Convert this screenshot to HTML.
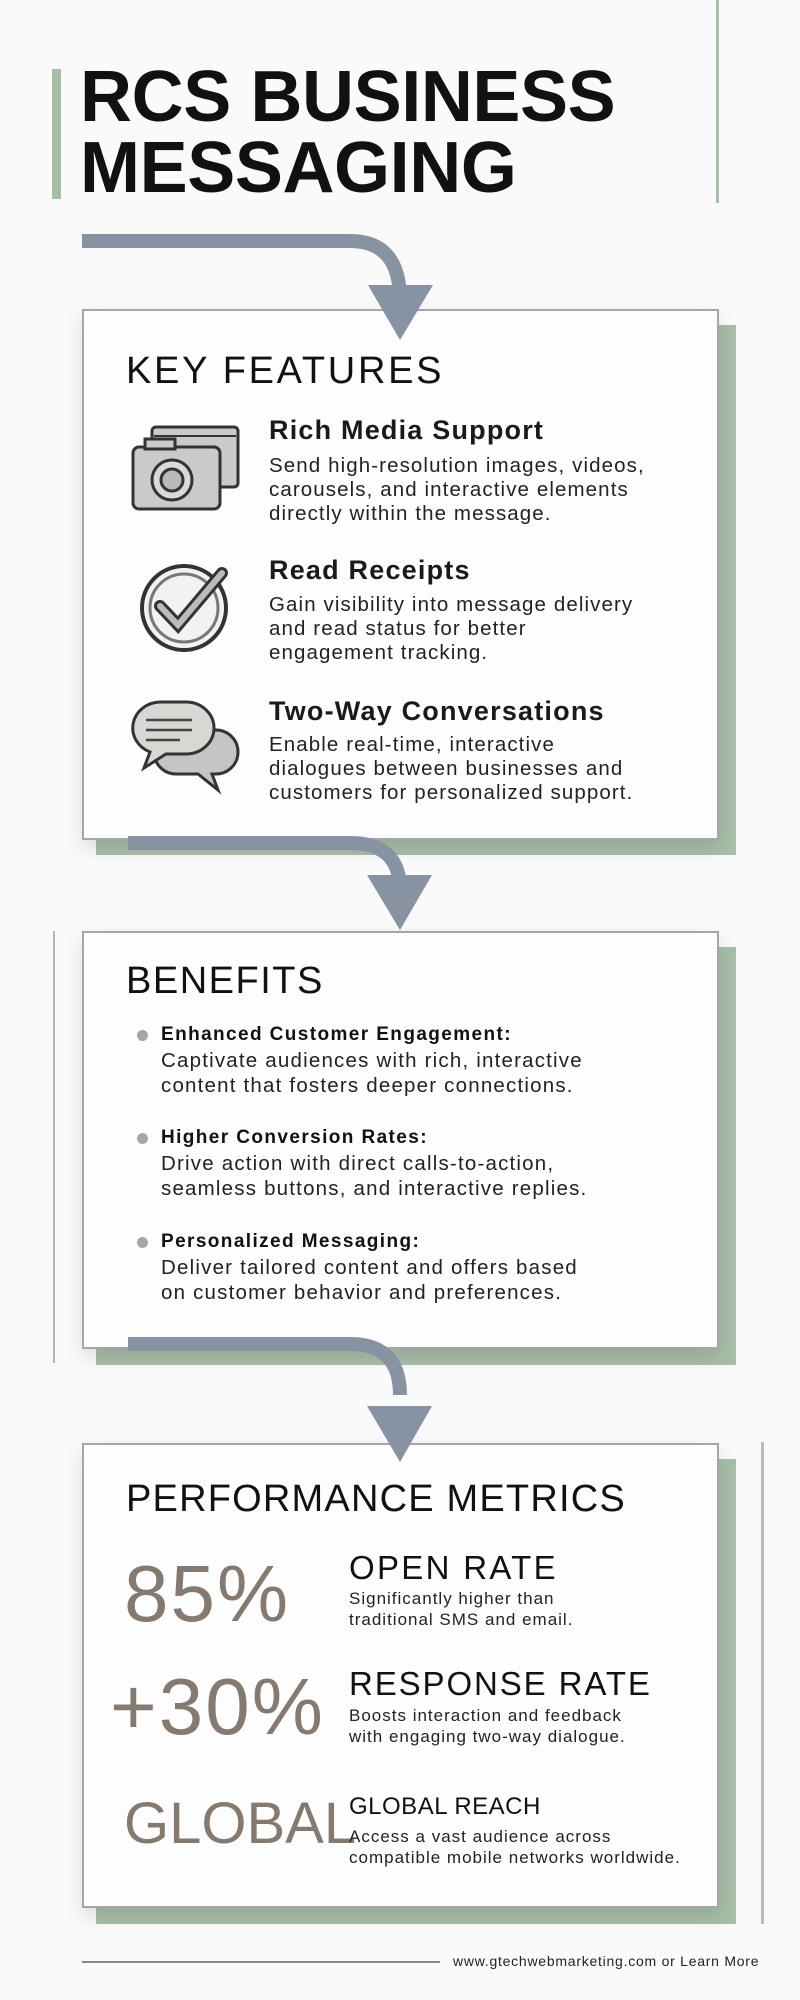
<!DOCTYPE html>
<html><head><meta charset="utf-8"><style>
*{margin:0;padding:0;box-sizing:border-box}
body{width:800px;height:2000px;background:#fafafa;position:relative;overflow:hidden;font-family:"Liberation Sans",sans-serif;color:#111}
.a{position:absolute;white-space:nowrap}
.box{position:absolute;background:#fdfdfd;border:2px solid #a6a6a6;box-shadow:0 8px 18px rgba(0,0,0,.12)}
.sh{position:absolute;background:#a7bea9}
.h{font-size:38px;letter-spacing:1.5px;line-height:44px}
.ft{font-size:27px;font-weight:bold;line-height:32px;color:#1a1a1a;letter-spacing:1.2px}
.fd{font-size:20.5px;line-height:24px;color:#222;letter-spacing:1.1px}
.bt{font-size:19px;font-weight:bold;line-height:24px;letter-spacing:1.4px}
.bd{font-size:20.5px;line-height:25px;color:#222;letter-spacing:1.2px}
.dot{position:absolute;width:11px;height:11px;border-radius:50%;background:#a0aa9f}
.big{color:#857a70;font-size:80px;line-height:90px;letter-spacing:2px}
.mt{font-size:33px;line-height:38px;letter-spacing:2.3px}
.md{font-size:17px;line-height:20.5px;color:#222;letter-spacing:1px}
</style></head><body>
<div class="a" style="left:52px;top:69px;width:9px;height:130px;background:#a7bea9"></div>
<div class="a" style="left:716px;top:0;width:3px;height:203px;background:#a7bea9"></div>
<div class="a" style="left:80px;top:62px;font-size:72px;font-weight:bold;line-height:71px;letter-spacing:-0.4px">RCS BUSINESS<br>MESSAGING</div>

<div class="sh" style="left:96px;top:325px;width:640px;height:530px"></div>
<div class="box" style="left:82px;top:309px;width:637px;height:531px"></div>
<div class="sh" style="left:96px;top:947px;width:640px;height:418px"></div>
<div class="box" style="left:82px;top:931px;width:637px;height:418px"></div>
<div class="a" style="left:53px;top:931px;width:2px;height:432px;background:#a7bea9"></div>
<div class="sh" style="left:96px;top:1459px;width:640px;height:465px"></div>
<div class="box" style="left:82px;top:1443px;width:637px;height:465px"></div>
<div class="a" style="left:761px;top:1442px;width:3px;height:482px;background:#bbb"></div>

<svg class="a" style="left:0;top:0" width="800" height="2000">
<g fill="none" stroke="#8792a3" stroke-width="14">
<path d="M82 241 H350 Q400 241 400 300"/>
<path d="M128 843 H350 Q400 843 400 890"/>
<path d="M128 1344 H350 Q400 1344 400 1395"/>
</g>
<g fill="#8792a3">
<polygon points="368,285 433,285 400,340"/>
<polygon points="367,875 432,875 400,930"/>
<polygon points="367,1406 432,1406 400,1462"/>
</g>
<g stroke="#333" stroke-width="3" fill="#c8cbc7">
<rect x="152" y="427" width="86" height="60" rx="4"/>
<rect x="133" y="447" width="87" height="62" rx="6"/>
<circle cx="172" cy="480" r="20" fill="#d8dad6"/>
<circle cx="172" cy="480" r="11" fill="#b7bab5"/>
<rect x="145" y="439" width="30" height="10" fill="#c8cbc7"/>
</g>
<line x1="154" y1="436" x2="236" y2="436" stroke="#333" stroke-width="2"/>
<circle cx="184" cy="608" r="42" fill="#f2f2f2" stroke="#333" stroke-width="4"/>
<circle cx="184" cy="608" r="34" fill="none" stroke="#777" stroke-width="3"/>
<path d="M160 606 L178 625 L222 573" fill="none" stroke="#333" stroke-width="12" stroke-linecap="round"/>
<path d="M160 606 L178 625 L222 573" fill="none" stroke="#bbb" stroke-width="6" stroke-linecap="round"/>
<g stroke="#333" stroke-width="3" fill="#c3c6c2">
<path d="M176 730 h40 a22 22 0 0 1 0 44 h-4 l6 16 l-20 -16 h-22 a22 22 0 0 1 0 -44z"/>
<path d="M160 702 h26 a28 26 0 0 1 0 52 h-20 l-22 14 l6 -16 a28 26 0 0 1 10 -50z" fill="#d6d8d4"/>
</g>
<g stroke="#444" stroke-width="2.5"><line x1="146" y1="720" x2="192" y2="720"/><line x1="146" y1="730" x2="192" y2="730"/><line x1="146" y1="740" x2="180" y2="740"/></g>
</svg>

<div class="a h" style="left:126px;top:349px;letter-spacing:2.7px">KEY FEATURES</div>
<div class="a ft" style="left:269px;top:414px">Rich Media Support</div>
<div class="a fd" style="left:269px;top:454px">Send high-resolution images, videos,<br>carousels, and interactive elements<br>directly within the message.</div>
<div class="a ft" style="left:269px;top:554px">Read Receipts</div>
<div class="a fd" style="left:269px;top:593px">Gain visibility into message delivery<br>and read status for better<br>engagement tracking.</div>
<div class="a ft" style="left:269px;top:695px">Two-Way Conversations</div>
<div class="a fd" style="left:269px;top:733px">Enable real-time, interactive<br>dialogues between businesses and<br>customers for personalized support.</div>

<div class="a h" style="left:126px;top:959px">BENEFITS</div>
<div class="dot" style="left:137px;top:1030px"></div>
<div class="a bt" style="left:161px;top:1023px">Enhanced Customer Engagement:</div>
<div class="a bd" style="left:161px;top:1048px">Captivate audiences with rich, interactive<br>content that fosters deeper connections.</div>
<div class="dot" style="left:137px;top:1133px"></div>
<div class="a bt" style="left:161px;top:1126px">Higher Conversion Rates:</div>
<div class="a bd" style="left:161px;top:1151px">Drive action with direct calls-to-action,<br>seamless buttons, and interactive replies.</div>
<div class="dot" style="left:137px;top:1237px"></div>
<div class="a bt" style="left:161px;top:1230px">Personalized Messaging:</div>
<div class="a bd" style="left:161px;top:1255px">Deliver tailored content and offers based<br>on customer behavior and preferences.</div>

<div class="a h" style="left:126px;top:1477px;letter-spacing:1.2px">PERFORMANCE METRICS</div>
<div class="a big" style="left:124px;top:1549px">85%</div>
<div class="a mt" style="left:349px;top:1549px">OPEN RATE</div>
<div class="a md" style="left:349px;top:1589px">Significantly higher than<br>traditional SMS and email.</div>
<div class="a big" style="left:110px;top:1662px">+30%</div>
<div class="a mt" style="left:349px;top:1665px;letter-spacing:1.9px">RESPONSE RATE</div>
<div class="a md" style="left:349px;top:1706px">Boosts interaction and feedback<br>with engaging two-way dialogue.</div>
<div class="a big" style="left:124px;top:1786px;font-size:58px;line-height:76px;letter-spacing:0">GLOBAL</div>
<div class="a" style="left:349px;top:1793px;font-size:24px;line-height:28px;letter-spacing:.5px">GLOBAL REACH</div>
<div class="a md" style="left:349px;top:1827px">Access a vast audience across<br>compatible mobile networks worldwide.</div>

<div class="a" style="left:82px;top:1961px;width:358px;height:2px;background:#888"></div>
<div class="a" style="left:453px;top:1952px;font-size:14px;line-height:18px;color:#222;letter-spacing:.75px">www.gtechwebmarketing.com or Learn More</div>
</body></html>
